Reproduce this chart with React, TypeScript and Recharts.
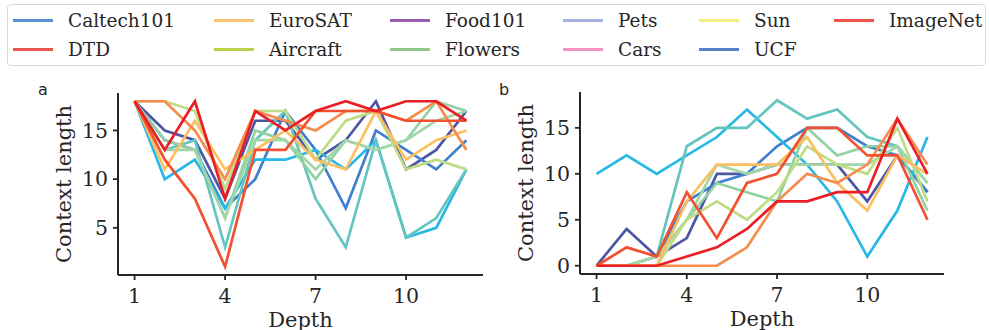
import React from 'react';
import { LineChart, Line, XAxis, YAxis, Label } from 'recharts';

const depths = [1, 2, 3, 4, 5, 6, 7, 8, 9, 10, 11, 12];
const xTicks = [1, 4, 7, 10];
const yTicksA = [5, 10, 15];
const yTicksB = [0, 5, 10, 15];

const datasetNames = ['Caltech101', 'DTD', 'EuroSAT', 'Aircraft', 'Food101', 'Flowers', 'Pets', 'Cars', 'Sun', 'UCF', 'ImageNet'];
const legendColors = ['#5b8fd3', '#ee5350', '#fdc471', '#b9d448', '#9a5cae', '#8ec98a', '#a7b1dd', '#ee93c2', '#f5ee7c', '#5283c8', '#f0524f'];
const lineColors = ['#4d55a5', '#3f7fcf', '#26b9e8', '#63c5be', '#92d1a2', '#a3d6a6', '#bedc84', '#fbbf60', '#f68d4e', '#f1512f', '#ec1e25'];
const legendColumnLefts = [13, 214, 390, 563, 699, 834];

// Panel a
const aCaltech101 = [18, 15, 14, 8, 16, 16, 12, 14, 18, 11, 13, 17];
const aDTD = [18, 14, 13, 7, 10, 17, 13, 7, 15, 13, 11, 14];
const aEuroSAT = [18, 10, 12, 7, 12, 12, 13, 11, 14, 4, 5, 11];
const aAircraft = [18, 13, 14, 3, 14, 17, 8, 3, 14, 4, 6, 11];
const aFood101 = [18, 14, 13, 6, 15, 14, 10, 14, 13, 14, 18, 17];
const aFlowers = [18, 13, 13, 6, 14, 14, 11, 14, 13, 14, 16, 17];
const aPets = [18, 18, 17, 9, 17, 17, 12, 16, 17, 11, 12, 11];
const aCars = [18, 11, 16, 11, 13, 15, 12, 11, 17, 12, 14, 15];
const aSun = [18, 18, 15, 10, 17, 16, 15, 17, 17, 16, 18, 13];
const aUCF = [18, 12, 8, 1, 13, 13, 17, 17, 17, 16, 16, 16];
const aImageNet = [18, 13, 18, 8, 17, 15, 17, 18, 17, 18, 18, 16];

// Panel b
const bCaltech101 = [0, 4, 1, 3, 10, 10, 11, 11, 11, 7, 12, 8];
const bDTD = [0, 0, 1, 7, 9, 10, 13, 15, 15, 13, 12, 8];
const bEuroSAT = [10, 12, 10, 12, 14, 17, 14, 11, 7, 1, 6, 14];
const bAircraft = [0, 0, 1, 13, 15, 15, 18, 16, 17, 14, 13, 9];
const bFood101 = [0, 0, 1, 5, 9, 8, 7, 15, 12, 13, 13, 6];
const bFlowers = [0, 0, 1, 5, 11, 10, 11, 11, 11, 11, 13, 9];
const bPets = [0, 0, 0, 5, 7, 5, 8, 13, 11, 10, 15, 7];
const bCars = [0, 0, 0, 7, 11, 11, 11, 14, 9, 6, 12, 10];
const bSun = [0, 0, 0, 0, 0, 2, 7, 10, 9, 11, 16, 11];
const bUCF = [0, 2, 1, 8, 3, 9, 10, 15, 15, 12, 12, 5];
const bImageNet = [0, 0, 0, 1, 2, 4, 7, 7, 8, 8, 16, 10];

const seriesA = [aCaltech101, aDTD, aEuroSAT, aAircraft, aFood101, aFlowers, aPets, aCars, aSun, aUCF, aImageNet];
const seriesB = [bCaltech101, bDTD, bEuroSAT, bAircraft, bFood101, bFlowers, bPets, bCars, bSun, bUCF, bImageNet];

const buildRows = (series: number[][]) =>
  depths.map((d, i) => {
    const row: Record<string, number> = { depth: d };
    datasetNames.forEach((n, j) => {
      row[n] = series[j][i];
    });
    return row;
  });

const rowsA = buildRows(seriesA);
const rowsB = buildRows(seriesB);

const SERIF = '"DejaVu Serif", serif';
const INK = '#262626';

type PanelProps = {
  rows: Record<string, number>[];
  yDomain: [number, number];
  yTicks: number[];
  width: number;
  margin: { top: number; right: number; bottom: number; left: number };
};

const Panel = ({ rows, yDomain, yTicks, width, margin }: PanelProps) => (
  <LineChart width={width} height={330} data={rows} margin={margin}>
    <XAxis
      dataKey="depth"
      type="number"
      domain={[0.45, 12.55]}
      ticks={xTicks}
      height={30}
      tickSize={5}
      tickMargin={8}
      axisLine={{ stroke: INK, strokeWidth: 2 }}
      tickLine={{ stroke: INK, strokeWidth: 1.8 }}
      tick={{ fill: INK, fontSize: 20.5, fontFamily: SERIF }}
      allowDataOverflow
    >
      <Label
        content={(p: any) => {
          const vb = p.viewBox || {};
          return (
            <text x={vb.x + vb.width / 2} y={vb.y + 52} textAnchor="middle" fill={INK} fontSize={21} fontFamily={SERIF}>
              Depth
            </text>
          );
        }}
      />
    </XAxis>
    <YAxis
      type="number"
      domain={yDomain}
      ticks={yTicks}
      width={60}
      tickSize={5}
      tickMargin={5}
      axisLine={{ stroke: INK, strokeWidth: 2 }}
      tickLine={{ stroke: INK, strokeWidth: 1.8 }}
      tick={{ fill: INK, fontSize: 20.5, fontFamily: SERIF }}
      allowDataOverflow
    >
      <Label
        content={(p: any) => {
          const vb = p.viewBox || {};
          const x = vb.x + vb.width - 47;
          const y = vb.y + vb.height / 2;
          return (
            <text x={x} y={y} transform={`rotate(-90, ${x}, ${y})`} textAnchor="middle" fill={INK} fontSize={21} fontFamily={SERIF}>
              Context length
            </text>
          );
        }}
      />
    </YAxis>
    {datasetNames.map((n, i) => (
      <Line
        key={n}
        dataKey={n}
        type="linear"
        stroke={lineColors[i]}
        strokeWidth={2.7}
        dot={false}
        activeDot={false}
        isAnimationActive={false}
      />
    ))}
  </LineChart>
);

const legendColumns = [0, 1, 2, 3, 4, 5].map((c) => [c * 2, c * 2 + 1].filter((i) => i < datasetNames.length));

const Legend = () => (
  <div
    style={{
      position: 'absolute',
      left: 7,
      top: 4,
      width: 979,
      height: 62,
      border: '1px solid #d8d8d8',
      borderRadius: 4,
      boxSizing: 'border-box',
      background: '#fff',
    }}
  >
    {legendColumns.map((col, ci) => (
      <div key={ci} style={{ position: 'absolute', left: legendColumnLefts[ci] - 8, top: 1, display: 'flex', flexDirection: 'column' }}>
        {col.map((i) => (
          <div key={datasetNames[i]} style={{ display: 'flex', alignItems: 'center', height: 29 }}>
            <div style={{ width: 40, height: 3, background: legendColors[i], marginRight: 15 }} />
            <span style={{ fontFamily: SERIF, fontSize: 18.5, color: INK, whiteSpace: 'nowrap', lineHeight: '29px' }}>
              {datasetNames[i]}
            </span>
          </div>
        ))}
      </div>
    ))}
  </div>
);

export default function App() {
  return (
    <div style={{ position: 'absolute', left: 0, top: 0, width: 989, height: 330, background: '#fff', overflow: 'hidden' }}>
      <Legend />
      <div style={{ position: 'absolute', left: 38, top: 80, fontFamily: '"DejaVu Sans", sans-serif', fontSize: 16, color: INK }}>a</div>
      <div style={{ position: 'absolute', left: 499, top: 80, fontFamily: '"DejaVu Sans", sans-serif', fontSize: 16, color: INK }}>b</div>
      <div style={{ position: 'absolute', left: 0, top: 0 }}>
        <Panel rows={rowsA} yDomain={[0.15, 18.85]} yTicks={yTicksA} width={495} margin={{ top: 93, right: 12, bottom: 25, left: 58 }} />
      </div>
      <div style={{ position: 'absolute', left: 495, top: 0 }}>
        <Panel rows={rowsB} yDomain={[-0.9, 18.9]} yTicks={yTicksB} width={494} margin={{ top: 92, right: 45, bottom: 26, left: 25 }} />
      </div>
    </div>
  );
}
